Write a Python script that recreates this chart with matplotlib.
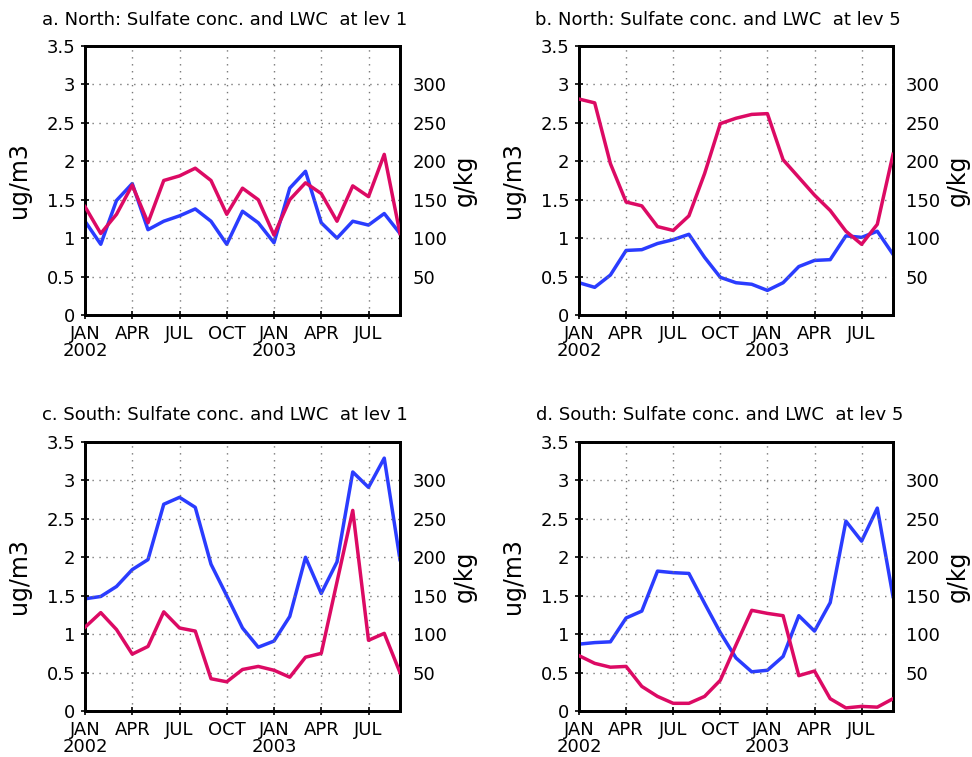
import numpy as np
import matplotlib
matplotlib.use("Agg")
import matplotlib.pyplot as plt

# months since JAN 2002 (JAN 2002 .. SEP 2003)
months = np.arange(21)
xtick_pos = [0, 3, 6, 9, 12, 15, 18]
xtick_lab = ["JAN\n2002", "APR", "JUL", "OCT", "JAN\n2003", "APR", "JUL"]

# sulfate conc (ug/m3) - red
so4_north_l1 = [1.41, 1.06, 1.31, 1.69, 1.20, 1.75, 1.81, 1.91, 1.75, 1.31, 1.65,
                1.50, 1.04, 1.50, 1.72, 1.58, 1.22, 1.68, 1.54, 2.09, 1.06]
so4_north_l5 = [2.81, 2.76, 1.97, 1.47, 1.42, 1.15, 1.10, 1.29, 1.84, 2.49, 2.56,
                2.61, 2.62, 2.02, 1.79, 1.56, 1.36, 1.09, 0.92, 1.18, 2.09]
so4_south_l1 = [1.09, 1.28, 1.06, 0.74, 0.84, 1.29, 1.08, 1.04, 0.42, 0.38, 0.54,
                0.58, 0.53, 0.44, 0.70, 0.75, 1.68, 2.61, 0.92, 1.01, 0.50]
so4_south_l5 = [0.72, 0.62, 0.57, 0.58, 0.32, 0.19, 0.10, 0.10, 0.19, 0.40, 0.86,
                1.31, 1.27, 1.24, 0.46, 0.52, 0.16, 0.04, 0.06, 0.05, 0.16]

# LWC (g/kg) - blue
lwc_north_l1 = [122, 92, 149, 171, 111, 122, 129, 138, 122, 92, 135,
                120, 94, 165, 187, 120, 100, 122, 117, 132, 106]
lwc_north_l5 = [42, 36, 52, 84, 85, 93, 98, 105, 75, 49, 42,
                40, 32, 42, 63, 71, 72, 103, 101, 109, 79]
lwc_south_l1 = [146, 149, 162, 184, 197, 269, 278, 265, 191, 150, 108,
                83, 91, 123, 200, 153, 194, 311, 291, 329, 197]
lwc_south_l5 = [87, 89, 90, 121, 130, 182, 180, 179, 140, 102, 69,
                51, 53, 71, 124, 104, 141, 247, 221, 264, 149]

titles = ["a. North: Sulfate conc. and LWC  at lev 1",
          "b. North: Sulfate conc. and LWC  at lev 5",
          "c. South: Sulfate conc. and LWC  at lev 1",
          "d. South: Sulfate conc. and LWC  at lev 5"]
so4_all = [so4_north_l1, so4_north_l5, so4_south_l1, so4_south_l5]
lwc_all = [lwc_north_l1, lwc_north_l5, lwc_south_l1, lwc_south_l5]

red = "#dc0a64"
blue = "#2a3cff"
W, H = 972, 757

fig = plt.figure(figsize=(W / 100, H / 100), dpi=100)

# pixel boxes: left, right, top, bottom
boxes = [(85, 400, 46, 315), (579, 893, 46, 315),
         (85, 400, 442, 711), (579, 893, 442, 711)]
title_xy = [(42, 20), (535, 20), (42, 415), (536, 415)]

for i in range(4):
    l, r, t, b = boxes[i]
    ax = fig.add_axes([l / W, 1 - b / H, (r - l) / W, (b - t) / H])
    ax.set_xlim(0, 20)
    ax.set_ylim(0, 3.5)
    ax.set_yticks(np.arange(0, 3.51, 0.5))
    ax.set_yticklabels(["0", "0.5", "1", "1.5", "2", "2.5", "3", "3.5"])
    ax.set_xticks(xtick_pos)
    ax.set_xticklabels(xtick_lab, linespacing=0.95)
    ax.tick_params(direction="inout", length=6, width=1.2, labelsize=13)
    ax.tick_params(axis="x", pad=4)
    ax.tick_params(axis="y", pad=4)
    ax.grid(True, linestyle=(0, (1, 4)), color="#777777", linewidth=1)
    for s in ax.spines.values():
        s.set_linewidth(2)
    ax.set_ylabel("ug/m3", fontsize=17, labelpad=11)

    ax2 = ax.twinx()
    ax2.set_ylim(0, 350)
    ax2.set_yticks([50, 100, 150, 200, 250, 300])
    ax2.tick_params(length=0, labelsize=13, pad=9)
    ax2.set_ylabel("g/kg", fontsize=17, labelpad=4)
    for s in ax2.spines.values():
        s.set_linewidth(2)

    ax2.plot(months, lwc_all[i], color=blue, linewidth=2.5)
    ax.plot(months, so4_all[i], color=red, linewidth=2.5, zorder=5)
    ax.set_zorder(ax2.get_zorder() + 1)
    ax.patch.set_visible(False)

    tx, ty = title_xy[i]
    fig.text(tx / W, 1 - ty / H, titles[i], fontsize=13, ha="left", va="center")

fig.savefig("out.png", dpi=100)
